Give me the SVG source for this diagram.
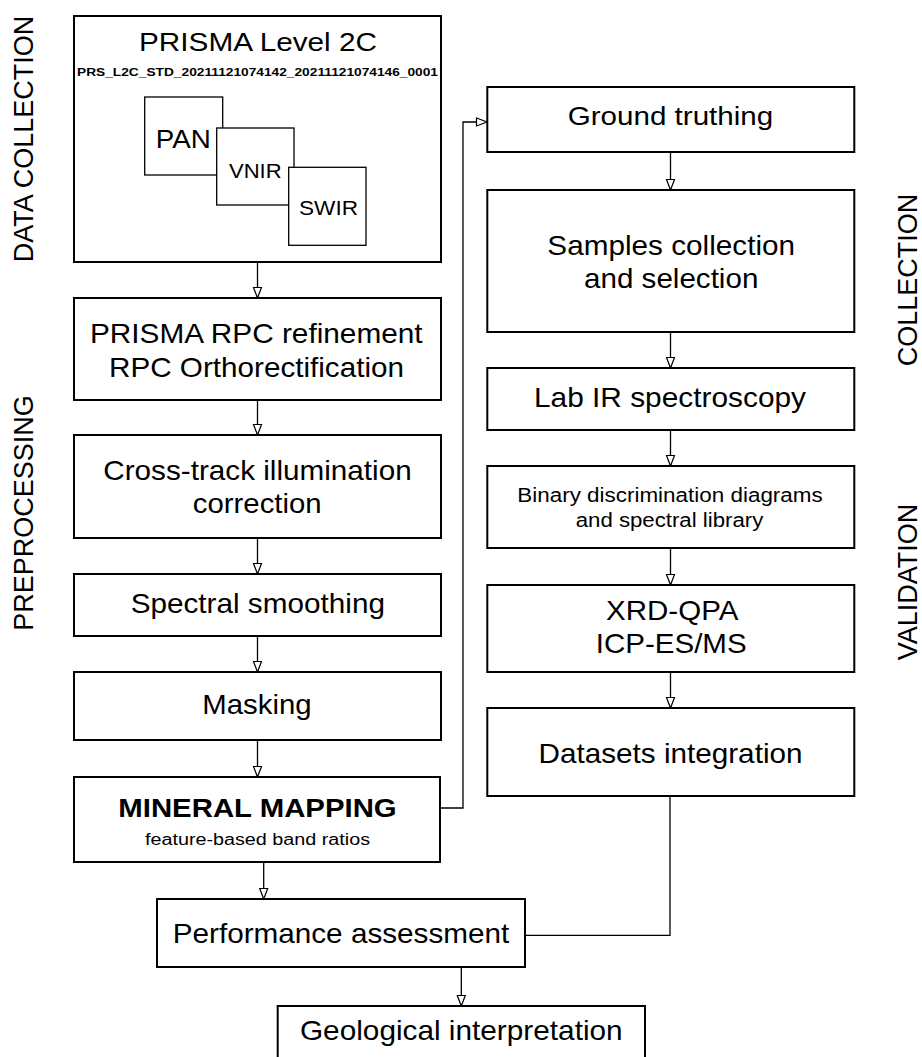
<svg xmlns="http://www.w3.org/2000/svg" width="922" height="1057" viewBox="0 0 922 1057">
<style>
.box{fill:#fff;stroke:#000;stroke-width:2}
.sub{fill:#fff;stroke:#000;stroke-width:1.3}
.t{font-family:"Liberation Sans",Arial,sans-serif;fill:#000;text-anchor:middle}
.b{font-weight:bold}
.lab{font-family:"Liberation Sans",Arial,sans-serif;fill:#000;text-anchor:middle;font-size:27px}
.c{fill:none;stroke:#000;stroke-width:1.3}
</style>
<defs>
<marker id="arr" markerUnits="userSpaceOnUse" markerWidth="14" markerHeight="12" refX="11" refY="4.5" orient="auto" overflow="visible">
<path d="M0.5,0.5 L11,4.5 L0.5,8.5 Z" fill="#fff" stroke="#000" stroke-width="1.2"/>
</marker>
</defs>
<rect width="922" height="1057" fill="#fff"/>

<g id="labels">
<text class="lab" transform="translate(33,139) rotate(-90)">DATA COLLECTION</text>
<text class="lab" transform="translate(33,513) rotate(-90)">PREPROCESSING</text>
<text class="lab" transform="translate(917,280) rotate(-90)">COLLECTION</text>
<text class="lab" transform="translate(917,582) rotate(-90)">VALIDATION</text>
</g>

<g id="connectors">
<path class="c" d="M257.5,262 V298" marker-end="url(#arr)"/>
<path class="c" d="M257.5,400 V435" marker-end="url(#arr)"/>
<path class="c" d="M257.5,538 V574" marker-end="url(#arr)"/>
<path class="c" d="M257.5,636 V672" marker-end="url(#arr)"/>
<path class="c" d="M257.5,740 V777" marker-end="url(#arr)"/>
<path class="c" d="M440,808 H463 V122 H487" marker-end="url(#arr)"/>
<path class="c" d="M670.5,152 V190" marker-end="url(#arr)"/>
<path class="c" d="M670.5,332 V368" marker-end="url(#arr)"/>
<path class="c" d="M670.5,430 V466" marker-end="url(#arr)"/>
<path class="c" d="M670.5,548 V585" marker-end="url(#arr)"/>
<path class="c" d="M670.5,672 V708" marker-end="url(#arr)"/>
<path class="c" d="M263.7,862 V899" marker-end="url(#arr)"/>
<path class="c" d="M670,796 V935.3 H525"/>
<path class="c" d="M461.3,967 V1006" marker-end="url(#arr)"/>
</g>

<g id="prisma-l2c">
<rect class="box" x="74" y="16" width="367" height="246"/>
<text class="t" x="258" y="51" font-size="26" textLength="238" lengthAdjust="spacingAndGlyphs">PRISMA Level 2C</text>
<text class="t b" x="257.5" y="76" font-size="11.5" textLength="361" lengthAdjust="spacingAndGlyphs">PRS_L2C_STD_20211121074142_20211121074146_0001</text>
</g>
<g id="pan">
<rect class="sub" x="144.7" y="97" width="78" height="78"/>
<text class="t" x="183.3" y="148.3" font-size="25" textLength="55" lengthAdjust="spacingAndGlyphs">PAN</text>
</g>
<g id="vnir">
<rect class="sub" x="216.7" y="128" width="77.3" height="77"/>
<text class="t" x="255.3" y="178.3" font-size="21" textLength="52.7" lengthAdjust="spacingAndGlyphs">VNIR</text>
</g>
<g id="swir">
<rect class="sub" x="288.7" y="167.3" width="77.3" height="78"/>
<text class="t" x="328.5" y="215" font-size="21" textLength="59" lengthAdjust="spacingAndGlyphs">SWIR</text>
</g>

<g id="rpc">
<rect class="box" x="74" y="298" width="367" height="102"/>
<text class="t" x="256.3" y="343.3" font-size="28" textLength="332.7" lengthAdjust="spacingAndGlyphs">PRISMA RPC refinement</text>
<text class="t" x="256.5" y="376.7" font-size="28" textLength="295" lengthAdjust="spacingAndGlyphs">RPC Orthorectification</text>
</g>
<g id="crosstrack">
<rect class="box" x="74" y="435" width="367" height="103"/>
<text class="t" x="257.5" y="480" font-size="28" textLength="308.4" lengthAdjust="spacingAndGlyphs">Cross-track illumination</text>
<text class="t" x="257.2" y="513.3" font-size="28" textLength="129" lengthAdjust="spacingAndGlyphs">correction</text>
</g>
<g id="smoothing">
<rect class="box" x="74" y="574" width="367" height="62"/>
<text class="t" x="257.8" y="613.3" font-size="28" textLength="254.3" lengthAdjust="spacingAndGlyphs">Spectral smoothing</text>
</g>
<g id="masking">
<rect class="box" x="74" y="672" width="367" height="68"/>
<text class="t" x="257" y="714" font-size="28" textLength="109.4" lengthAdjust="spacingAndGlyphs">Masking</text>
</g>
<g id="mineral">
<rect class="box" x="74" y="777" width="366" height="85"/>
<text class="t b" x="257.5" y="816.7" font-size="26" textLength="278.4" lengthAdjust="spacingAndGlyphs">MINERAL MAPPING</text>
<text class="t" x="257.5" y="845" font-size="16" textLength="225" lengthAdjust="spacingAndGlyphs">feature-based band ratios</text>
</g>
<g id="performance">
<rect class="box" x="157" y="899" width="368" height="68"/>
<text class="t" x="341" y="943.3" font-size="28" textLength="336.6" lengthAdjust="spacingAndGlyphs">Performance assessment</text>
</g>
<g id="geological">
<rect class="box" x="277.7" y="1006" width="367.3" height="60"/>
<text class="t" x="461.3" y="1040" font-size="28" textLength="322.7" lengthAdjust="spacingAndGlyphs">Geological interpretation</text>
</g>

<g id="ground">
<rect class="box" x="487.3" y="87" width="367" height="65"/>
<text class="t" x="670.5" y="125" font-size="26" textLength="205.6" lengthAdjust="spacingAndGlyphs">Ground truthing</text>
</g>
<g id="samples">
<rect class="box" x="487.3" y="190" width="367" height="142"/>
<text class="t" x="671.2" y="255" font-size="28" textLength="247.7" lengthAdjust="spacingAndGlyphs">Samples collection</text>
<text class="t" x="671.2" y="288.3" font-size="28" textLength="174.3" lengthAdjust="spacingAndGlyphs">and selection</text>
</g>
<g id="labir">
<rect class="box" x="487.3" y="368" width="367" height="62"/>
<text class="t" x="670" y="406.7" font-size="28" textLength="272" lengthAdjust="spacingAndGlyphs">Lab IR spectroscopy</text>
</g>
<g id="binary">
<rect class="box" x="487.3" y="466" width="367" height="82"/>
<text class="t" x="670" y="501.7" font-size="20" textLength="305.4" lengthAdjust="spacingAndGlyphs">Binary discrimination diagrams</text>
<text class="t" x="669.5" y="526.7" font-size="20" textLength="187.6" lengthAdjust="spacingAndGlyphs">and spectral library</text>
</g>
<g id="xrd">
<rect class="box" x="487.3" y="585" width="367" height="87"/>
<text class="t" x="672.2" y="620" font-size="28" textLength="132.3" lengthAdjust="spacingAndGlyphs">XRD-QPA</text>
<text class="t" x="671.2" y="653.3" font-size="28" textLength="151" lengthAdjust="spacingAndGlyphs">ICP-ES/MS</text>
</g>
<g id="datasets">
<rect class="box" x="487.3" y="708" width="367" height="88"/>
<text class="t" x="670.5" y="762.5" font-size="28" textLength="264" lengthAdjust="spacingAndGlyphs">Datasets integration</text>
</g>
</svg>
